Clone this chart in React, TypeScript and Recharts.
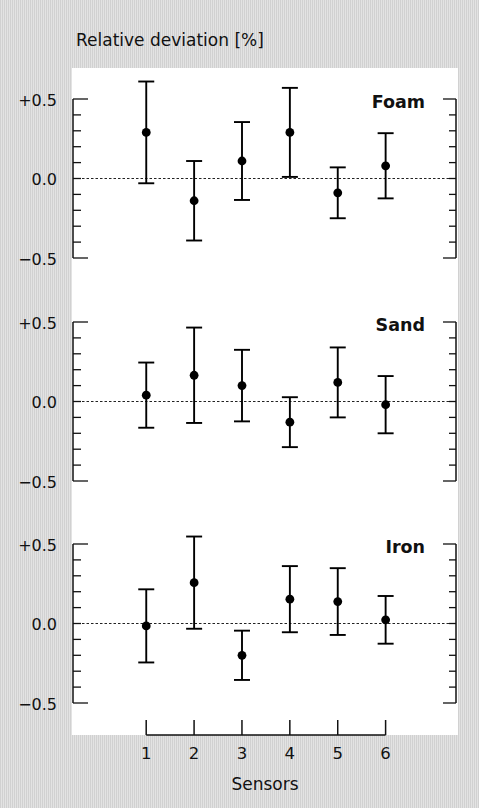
import React from 'react';
import { ScatterChart, Scatter, XAxis, YAxis, ErrorBar, ReferenceLine } from 'recharts';

const sensors = [1, 2, 3, 4, 5, 6];

const foamValues = [0.29, -0.14, 0.11, 0.29, -0.09, 0.08];
const foamErrors = [0.32, 0.25, 0.245, 0.28, 0.16, 0.205];

const sandValues = [0.04, 0.165, 0.1, -0.13, 0.12, -0.02];
const sandErrors = [0.205, 0.3, 0.225, 0.157, 0.22, 0.18];

const ironValues = [-0.015, 0.257, -0.2, 0.153, 0.138, 0.023];
const ironErrors = [0.23, 0.29, 0.155, 0.208, 0.21, 0.15];

const yTicks = [-0.5, -0.4, -0.3, -0.2, -0.1, 0, 0.1, 0.2, 0.3, 0.4, 0.5];
const yMajorLabels: { [k: string]: string } = { '-0.5': '\u22120.5', '0': '0.0', '0.5': '+0.5' };

const panelTitles = ['Foam', 'Sand', 'Iron'];
const yAxisTitle = 'Relative deviation [%]';
const xAxisTitle = 'Sensors';

const FONT = '"DejaVu Sans", sans-serif';
const INK = '#111';

const W = 479;
const PLOT_H = 159;
const PANEL_TOPS = [99, 322, 544];
const X_DOMAIN: [number, number] = [-0.53, 7.47];

const keyOf = (v: number) => String(Math.round(v * 10) / 10);

const LeftTick = (props: any) => {
  const { x, y, payload } = props;
  const v = payload.value as number;
  const major = Math.abs(Math.abs(v) - 0.5) < 1e-6;
  const len = major ? 15 : 8;
  const label = yMajorLabels[keyOf(v)];
  return (
    <g>
      <line x1={x} y1={y} x2={x + len} y2={y} stroke={INK} strokeWidth={1.3} />
      {label ? (
        <text x={x - 16} y={y + 6.5} textAnchor="end" fontSize={16} fontFamily={FONT} fill={INK}>
          {label}
        </text>
      ) : null}
    </g>
  );
};

const RightTick = (props: any) => {
  const { x, y, payload } = props;
  const v = payload.value as number;
  const major = Math.abs(Math.abs(v) - 0.5) < 1e-6;
  const len = major ? 13 : 7;
  return <line x1={x} y1={y} x2={x - len} y2={y} stroke={INK} strokeWidth={1.3} />;
};

const BottomTick = (props: any) => {
  const { x, y, payload } = props;
  return (
    <g>
      <line x1={x} y1={y} x2={x} y2={y - 15} stroke={INK} strokeWidth={1.5} />
      <text x={x} y={y + 24} textAnchor="middle" fontSize={16.5} fontFamily={FONT} fill={INK}>
        {payload.value}
      </text>
    </g>
  );
};

const Dot = (props: any) => {
  const { cx, cy } = props;
  if (cx == null || cy == null) return <g />;
  return <circle cx={cx} cy={cy} r={4.4} fill="#000" />;
};

function Panel({ values, errors, top }: { values: number[]; errors: number[]; top: number }) {
  const data = sensors.map((s, i) => ({ x: s, y: values[i], err: errors[i] }));
  return (
    <div style={{ position: 'absolute', left: 0, top: top - 20 }}>
      <ScatterChart width={W} height={PLOT_H + 41} margin={{ top: 20, right: 0, bottom: 21, left: 0 }}>
        <XAxis type="number" dataKey="x" domain={X_DOMAIN} hide allowDataOverflow />
        <YAxis
          yAxisId="l"
          type="number"
          dataKey="y"
          domain={[-0.5, 0.5]}
          ticks={yTicks}
          interval={0}
          width={73}
          tickSize={0}
          tickMargin={0}
          tickLine={false}
          tick={<LeftTick />}
          axisLine={{ stroke: INK, strokeWidth: 1.5 }}
          allowDataOverflow
        />
        <YAxis
          yAxisId="r"
          orientation="right"
          type="number"
          domain={[-0.5, 0.5]}
          ticks={yTicks}
          interval={0}
          width={23}
          tickSize={0}
          tickMargin={0}
          tickLine={false}
          tick={<RightTick />}
          axisLine={{ stroke: INK, strokeWidth: 1.5 }}
          allowDataOverflow
        />
        <ReferenceLine yAxisId="l" y={0} stroke="#222" strokeWidth={1.1} strokeDasharray="2.5 2" />
        <Scatter yAxisId="l" data={data} fill="#000" shape={<Dot />} isAnimationActive={false}>
          <ErrorBar dataKey="err" direction="y" width={8} stroke="#000" strokeWidth={1.9} isAnimationActive={false} />
        </Scatter>
      </ScatterChart>
    </div>
  );
}

function BottomAxis() {
  const data = sensors.map((s) => ({ x: s, y: 0.5 }));
  const left = 146.2;
  const right = 385.6;
  return (
    <div style={{ position: 'absolute', left: 0, top: 700 }}>
      <ScatterChart width={W} height={108} margin={{ top: 0, right: W - right, bottom: 0, left }}>
        <XAxis
          type="number"
          dataKey="x"
          domain={[1, 6]}
          ticks={sensors}
          interval={0}
          height={73}
          tickSize={0}
          tickMargin={0}
          tickLine={false}
          tick={<BottomTick />}
          axisLine={{ stroke: INK, strokeWidth: 1.6 }}
        />
        <YAxis type="number" dataKey="y" domain={[0, 1]} hide />
        <Scatter data={data} shape={() => <g />} isAnimationActive={false} />
      </ScatterChart>
    </div>
  );
}

export default function App() {
  return (
    <div
      style={{
        position: 'absolute',
        left: 0,
        top: 0,
        width: W,
        height: 808,
        overflow: 'hidden',
        backgroundColor: '#dedede',
        backgroundImage:
          'repeating-linear-gradient(90deg, rgba(0,0,0,0.06) 0px, rgba(0,0,0,0.06) 1px, rgba(255,255,255,0.15) 1px, rgba(255,255,255,0.15) 2px)',
      }}
    >
      <div style={{ position: 'absolute', left: 72, top: 68, width: 386, height: 667, background: '#fff' }} />
      <Panel values={foamValues} errors={foamErrors} top={PANEL_TOPS[0]} />
      <Panel values={sandValues} errors={sandErrors} top={PANEL_TOPS[1]} />
      <Panel values={ironValues} errors={ironErrors} top={PANEL_TOPS[2]} />
      <BottomAxis />
      <svg width={W} height={808} style={{ position: 'absolute', left: 0, top: 0, pointerEvents: 'none' }}>
        <text x={76} y={46} fontSize={17} fontFamily={FONT} fill={INK}>
          {yAxisTitle}
        </text>
        {panelTitles.map((t, i) => (
          <text key={t} x={425} y={PANEL_TOPS[i] + 8.5} textAnchor="end" fontSize={17.5} fontWeight="bold" fontFamily={FONT} fill={INK}>
            {t}
          </text>
        ))}
        <text x={265} y={790} textAnchor="middle" fontSize={17} fontFamily={FONT} fill={INK}>
          {xAxisTitle}
        </text>
      </svg>
    </div>
  );
}
